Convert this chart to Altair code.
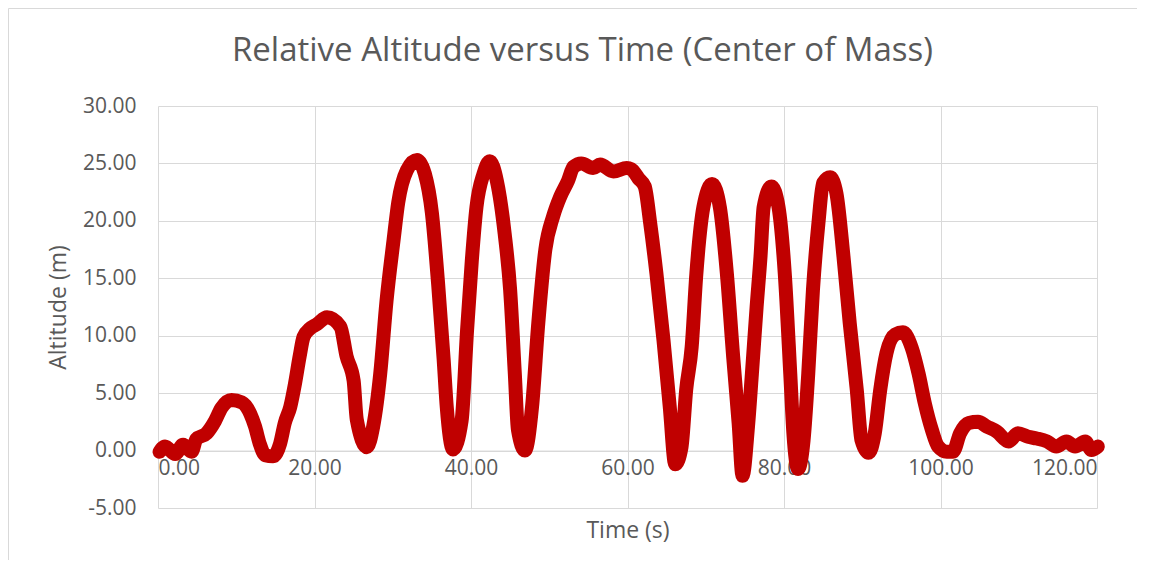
import altair as alt
import pandas as pd

time_s = [0.2, 0.9, 2.2, 3.2, 4.3, 4.9, 6.2, 7.3, 8.1, 9.4, 10.7, 11.8, 12.4, 13.0, 13.7, 14.7,
          15.6, 16.2, 16.9, 17.5, 18.1, 18.6, 19.4, 20.3, 21.6, 23.3, 24.1, 25.0, 25.4, 26.7,
          27.5, 28.4, 29.2, 30.1, 30.7, 31.8, 33.1, 34.1, 35.0, 35.8, 36.5, 36.9, 37.7, 38.8,
          39.5, 40.1, 40.7, 41.6, 42.4, 43.3, 44.3, 45.0, 45.6, 46.0, 46.9, 47.8, 48.6, 49.5,
          50.5, 51.4, 52.4, 53.1, 54.1, 55.6, 56.5, 58.2, 59.9, 60.5, 61.4, 62.2, 62.9, 63.7,
          64.6, 65.4, 66.1, 66.9, 67.5, 68.2, 68.8, 69.7, 70.8, 71.8, 72.7, 73.5, 74.2, 74.7,
          75.4, 75.9, 76.5, 77.0, 77.4, 78.4, 79.3, 80.1, 80.8, 81.2, 81.8, 82.5, 83.1, 83.7,
          84.4, 85.0, 85.9, 86.7, 87.6, 88.4, 89.3, 89.9, 90.8, 91.6, 92.3, 93.1, 94.2, 95.2,
          96.3, 97.2, 98.0, 98.9, 99.7, 100.8, 101.6, 102.5, 103.6, 104.8, 105.9, 107.2, 108.7,
          109.9, 111.2, 112.3, 113.6, 114.8, 116.1, 117.2, 118.5, 119.3, 120.1]

altitude_m = [-0.1, 0.35, -0.3, 0.5, -0.1, 1.0, 1.5, 2.6, 3.7, 4.4, 4.2, 3.2, 2.1, 0.6, -0.4, -0.5,
              0.6, 2.4, 3.8, 5.8, 8.2, 9.9, 10.6, 11.0, 11.6, 10.8, 8.2, 6.1, 2.7, 0.3,
              2.1, 6.7, 13.0, 18.3, 21.6, 24.4, 25.3, 24.1, 20.7, 14.5, 8.0, 3.8, 0.1, 2.6,
              10.5, 16.5, 21.2, 24.1, 25.2, 23.5, 18.9, 14.0, 6.7, 1.8, 0.0, 3.8, 11.1, 17.5,
              20.4, 22.1, 23.5, 24.7, 25.0, 24.6, 24.9, 24.3, 24.6, 24.5, 23.7, 23.0, 19.8, 15.4,
              9.6, 3.8, -1.2, 0.3, 5.3, 9.0, 15.4, 21.2, 23.2, 21.2, 15.4, 8.2, 2.4, -2.2,
              2.1, 6.7, 12.5, 16.9, 21.2, 23.0, 21.2, 15.4, 6.7, 1.5, -1.6, 0.9, 6.7, 14.0,
              19.8, 23.3, 23.8, 22.4, 16.9, 11.1, 5.3, 0.9, -0.2, 1.5, 5.3, 8.5, 10.1, 10.3,
              9.0, 6.7, 4.1, 1.8, 0.35, -0.1, -0.1, 1.5, 2.4, 2.5, 2.1, 1.65, 0.8,
              1.5, 1.2, 1.05, 0.8, 0.35, 0.8, 0.35, 0.8, 0.05, 0.35]

x_ticks = [0, 20, 40, 60, 80, 100, 120]
y_ticks = [-5, 0, 5, 10, 15, 20, 25, 30]

df = pd.DataFrame({"t": time_s, "alt": altitude_m, "i": list(range(len(time_s)))})

W, H = 939, 402
RED = "#C00000"
GRID = "#D9D9D9"
TXT = "#595959"
FONT = "Open Sans"
LABEL = "replace(format(datum.value, '.2f'), '\u2212', '-')"

x_enc = alt.X(
    "t:Q",
    scale=alt.Scale(domain=[0, 120], nice=False),
    axis=alt.Axis(
        values=x_ticks, labelExpr=LABEL, title="Time (s)", grid=True, gridColor=GRID,
        ticks=False, domain=True, domainColor=GRID, offset=-(H * 5 / 35),
        labelPadding=7, titleY=80, titleBaseline="middle",
    ),
)
y_enc = alt.Y(
    "alt:Q",
    scale=alt.Scale(domain=[-5, 30], nice=False),
    axis=alt.Axis(
        values=y_ticks, labelExpr=LABEL, title="Altitude (m)", grid=True, gridColor=GRID,
        ticks=False, domain=False, labelPadding=22, titleX=-100, titleBaseline="middle",
    ),
)

base = alt.Chart(df).transform_filter("datum.i == 0")
left_edge = base.mark_rule(color=GRID, strokeWidth=1, clip=False).encode(
    x=alt.value(-149.5), y=alt.value(-97.5), y2=alt.value(H + 100)
)
top_edge = base.mark_rule(color=GRID, strokeWidth=1, clip=False).encode(
    x=alt.value(-149.5), x2=alt.value(W + 100), y=alt.value(-97.5)
)

line = alt.Chart(df).mark_line(
    color=RED, strokeWidth=14, strokeCap="round", strokeJoin="round", interpolate="monotone"
).encode(x=x_enc, y=y_enc, order="i:Q")

chart = alt.layer(left_edge, top_edge, line).properties(
    width=W, height=H,
    title=alt.TitleParams(
        "Relative Altitude versus Time (Center of Mass)", fontSize=33, font=FONT,
        fontWeight="normal", color=TXT, anchor="middle", frame="group", dx=-45, offset=-60,
    ),
    autosize=alt.AutoSizeParams(type="none"),
    padding={"left": 150, "top": 98, "right": 40, "bottom": 52},
    background="white",
).configure_view(stroke=None).configure_axis(
    labelFont=FONT, labelFontSize=21, labelColor=TXT,
    titleFont=FONT, titleFontSize=23, titleColor=TXT, titleFontWeight="normal",
)

chart.save("out.html", embed_options={"renderer": "svg", "actions": False})
